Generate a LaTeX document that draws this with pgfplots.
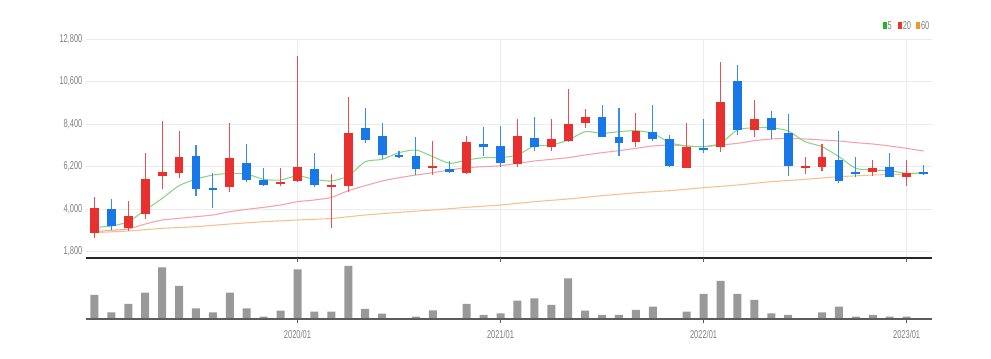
\documentclass[border=0pt]{standalone}
\usepackage{fontspec}
\usepackage{pgfplots}
\usepackage{pgfplotstable}
\pgfplotsset{compat=1.18}
\newfontfamily\cf[FakeStretch=0.66]{Liberation Sans}
\definecolor{cred}{HTML}{E8312F}
\definecolor{wred}{HTML}{EA5050}
\definecolor{cblue}{HTML}{1878E8}
\definecolor{wblue}{HTML}{3A8CEA}
\definecolor{mafive}{HTML}{86D686}
\definecolor{matwenty}{HTML}{F4A3A8}
\definecolor{masixty}{HTML}{F6C18E}
\definecolor{volc}{HTML}{999999}
\definecolor{basec}{HTML}{5C5C5C}
\definecolor{tickc}{HTML}{7F7F7F}
\definecolor{gridc}{HTML}{ECECEC}
\definecolor{lgreen}{HTML}{22B822}
\definecolor{lred}{HTML}{EE3333}
\definecolor{lorange}{HTML}{F39A1E}

\pgfplotstableread{
x open high low close
0 2740 4640 2480 4070
2 3000 4430 2880 3655
3 3725 6880 3470 5550
4 5730 8570 5020 5930
5 5850 8060 5620 6710
8 5120 8430 4900 6620
11 5280 6140 5210 5380
12 5470 11940 5415 6160
14 5120 5810 3000 5245
15 5190 9815 4900 7920
20 6105 7535 5760 6245
22 5880 7780 5810 7450
25 6330 8640 6155 7795
27 7190 8640 7020 7625
28 7540 10210 7485 8400
29 8470 9160 8175 8745
32 7450 8985 7230 8040
35 6140 8435 6105 7190
37 7190 11625 6970 9555
39 8090 9640 7710 8640
42 6140 6710 5810 6225
43 6190 7365 5985 6675
46 5900 6535 5710 6105
48 5640 6535 5210 5880
}\upcandles

\pgfplotstableread{
x open high low close
1 4000 4500 2910 3140
6 6740 7300 4670 5040
7 5070 5850 4035 4985
9 6360 7350 5415 5500
10 5500 6105 5210 5245
13 6070 6915 5155 5245
16 8175 9210 7400 7570
17 7780 8435 6570 6800
18 6810 7020 6660 6710
19 6745 7745 5760 6070
21 6070 6500 5880 5930
23 7365 8230 6760 7190
24 7280 8300 6155 6365
26 7660 8780 7020 7230
30 8780 9385 7710 7745
31 7710 9210 6760 7400
33 7970 9385 7535 7625
34 7605 7830 6190 6245
36 7160 8660 6915 7055
38 10645 11455 7830 8090
40 8730 9075 7605 8090
41 7950 8900 5725 6225
44 6535 8055 5330 5465
45 5935 6710 5640 5810
47 6190 6880 5640 5675
49 5935 6280 5760 5810
}\downcandles

\pgfplotstableread{
x ma5 ma20 ma60 vol
0 3050 2827 2776 73
1 3120 2900 2820 21
2 3345 2965 2862 46
3 3950 3224 2930 80
4 4550 3431 3000 156
5 5210 3518 3043 100
6 5550 3604 3086 33
7 5760 3690 3155 21
8 5847 3863 3224 80
9 5810 3983 3285 33
10 5536 4087 3345 8
11 5500 4208 3388 26
12 5725 4380 3431 150
13 5535 4467 3470 23
14 5450 4600 3510 23
15 5708 4950 3600 160
16 6451 5208 3690 31
17 6571 5450 3760 17
18 6916 5622 3828 3
19 7054 5760 3890 8
20 6709 5881 3949 27
21 6364 6019 4018 3
22 6537 6140 4087 46
23 6658 6192 4148 13
24 6658 6243 4208 18
25 6796 6364 4294 56
26 7262 6485 4380 63
27 7313 6571 4450 43
28 7572 6658 4518 123
29 8003 6796 4605 26
30 7917 6916 4691 13
31 8003 7020 4765 13
32 8055 7140 4840 28
33 7917 7262 4895 38
34 7434 7313 4950 3
35 7262 7262 5028 23
36 7227 7227 5105 76
37 7399 7313 5174 115
38 8090 7399 5243 76
39 8210 7537 5330 58
40 8210 7624 5415 18
41 8038 7658 5475 13
42 7486 7624 5536 3
43 7227 7572 5605 21
44 6709 7520 5674 38
45 6105 7434 5717 8
46 6019 7365 5760 13
47 5985 7262 5786 8
48 5847 7140 5812 8
49 5881 7003 5847 3
}\series

\begin{document}
\begin{tikzpicture}
\useasboundingbox (0,0) rectangle (743.25pt,269.25pt);

\begin{axis}[
  at={(64.5pt,75.525pt)}, anchor=south west, scale only axis,
  width=634.5pt, height=164.475pt,
  xmin=-0.5, xmax=49.5, ymin=1450, ymax=12800,
  ytick={1800,4000,6200,8400,10600,12800},
  xtick={12,24,36,48}, xticklabels={},
  major tick length=0pt,
  xmajorgrids, ymajorgrids,
  grid style={draw=gridc, line width=0.6pt},
  axis line style={draw=none},
  scaled y ticks=false,
  /pgf/number format/assume math mode=true,
  /pgf/number format/1000 sep={,},
  yticklabel style={font=\cf\fontsize{8.5}{9}\selectfont, text=tickc, inner sep=0pt, xshift=-2.5pt},
  clip=false,
]
\addplot[masixty, line width=0.8pt, smooth, tension=0.4] table[x=x, y=ma60] {\series};
\addplot[matwenty, line width=0.8pt, smooth, tension=0.4] table[x=x, y=ma20] {\series};
\addplot[mafive, line width=0.8pt, smooth, tension=0.4] table[x=x, y=ma5] {\series};

% wicks
\addplot[draw=none, mark=none, error bars/.cd, y dir=plus, y explicit, error mark=none,
  error bar style={draw=wred, line width=0.8pt}]
  table[x=x, y=low, y error plus expr=\thisrow{high}-\thisrow{low}] {\upcandles};
\addplot[draw=none, mark=none, error bars/.cd, y dir=plus, y explicit, error mark=none,
  error bar style={draw=wblue, line width=0.8pt}]
  table[x=x, y=low, y error plus expr=\thisrow{high}-\thisrow{low}] {\downcandles};
% bodies
\addplot[draw=none, mark=none, error bars/.cd, y dir=plus, y explicit, error mark=none,
  error bar style={draw=cred, line width=6.6pt, line cap=butt}]
  table[x=x, y=open, y error plus expr=\thisrow{close}-\thisrow{open}] {\upcandles};
\addplot[draw=none, mark=none, error bars/.cd, y dir=plus, y explicit, error mark=none,
  error bar style={draw=cblue, line width=6.6pt, line cap=butt}]
  table[x=x, y=close, y error plus expr=\thisrow{open}-\thisrow{close}] {\downcandles};

\draw[black!85, line width=1.3pt] (rel axis cs:0,0) -- (rel axis cs:1,0);
\end{axis}

\begin{axis}[
  at={(64.5pt,29.775pt)}, anchor=south west, scale only axis,
  width=634.5pt, height=42.975pt,
  xmin=-0.5, xmax=49.5, ymin=0, ymax=172,
  ytick=\empty,
  xtick={12,24,36,48},
  xticklabels={2020/01,2021/01,2022/01,2023/01},
  axis line style={draw=none},
  tick align=outside, major tick length=3pt,
  xtick style={draw=basec, line width=0.8pt},
  xticklabel style={font=\cf\fontsize{8.5}{9}\selectfont, text=tickc, inner sep=0pt, yshift=-5pt},
  ybar, bar width=6pt,
]
\addplot[fill=volc, draw=none] table[x=x, y=vol] {\series};
\draw[basec, line width=1.4pt] (rel axis cs:0,0) -- (rel axis cs:1,0);
\end{axis}

% legend
\fill[lgreen] (662.0pt,247.8pt) rectangle (665.0pt,252.6pt);
\node[anchor=west, inner sep=0pt, text=tickc, font=\cf\fontsize{8.5}{9}\selectfont] at (665.6pt,250.2pt) {5};
\fill[lred] (673.3pt,247.8pt) rectangle (676.3pt,252.6pt);
\node[anchor=west, inner sep=0pt, text=tickc, font=\cf\fontsize{8.5}{9}\selectfont] at (676.9pt,250.2pt) {20};
\fill[lorange] (687.0pt,247.8pt) rectangle (690.0pt,252.6pt);
\node[anchor=west, inner sep=0pt, text=tickc, font=\cf\fontsize{8.5}{9}\selectfont] at (690.6pt,250.2pt) {60};
\end{tikzpicture}
\end{document}
